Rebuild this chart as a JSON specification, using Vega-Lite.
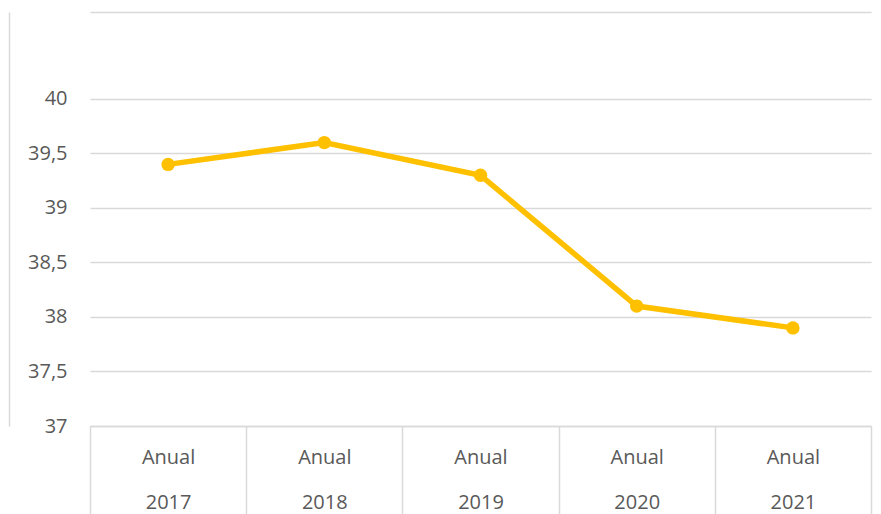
{
  "$schema": "https://vega.github.io/schema/vega-lite/v6.json",
  "width": 781,
  "height": 414,
  "autosize": {"type": "none"},
  "padding": {"left": 90, "top": 12, "right": 10, "bottom": 88},
  "background": "white",
  "config": {
    "view": {"stroke": null},
    "font": "Open Sans"
  },
  "data": {
    "values": [
      {"year": "2017", "value": 39.4},
      {"year": "2018", "value": 39.6},
      {"year": "2019", "value": 39.3},
      {"year": "2020", "value": 38.1},
      {"year": "2021", "value": 37.9}
    ]
  },
  "resolve": {"axis": {"x": "independent", "y": "independent"}},
  "layer": [
    {
      "mark": {"type": "line", "color": "#FFC000", "strokeWidth": 5.5},
      "encoding": {
        "x": {
          "field": "year", "type": "ordinal", "bandPosition": 0.5,
          "scale": {"type": "band", "paddingInner": 0, "paddingOuter": 0},
          "axis": {
            "title": null, "labelAngle": 0,
            "labelExpr": "datum.label ? ['Anual', datum.label] : ''",
            "labelLineHeight": 45, "labelFontSize": 20, "labelColor": "#595959",
            "labelFont": "Open Sans",
            "tickBand": "extent", "tickSize": 88, "tickColor": "#d9d9d9", "tickWidth": 1.5,
            "labelPadding": -67, "domainColor": "#d9d9d9", "domainWidth": 1.5, "grid": false
          }
        },
        "y": {
          "field": "value", "type": "quantitative",
          "scale": {"domain": [37, 40.798], "nice": false, "zero": false},
          "axis": {
            "title": null, "values": [37, 37.5, 38, 38.5, 39, 39.5, 40],
            "labelExpr": "replace(format(datum.value, '~g'), '.', ',')",
            "labelFontSize": 20, "labelColor": "#595959", "labelFont": "Open Sans",
            "labelPadding": 23, "ticks": false, "domain": false,
            "grid": true, "gridColor": "#d9d9d9", "gridWidth": 1.3
          }
        }
      }
    },
    {
      "mark": {"type": "circle", "color": "#FFC000", "opacity": 1, "size": 180},
      "encoding": {
        "x": {
          "field": "year", "type": "ordinal", "bandPosition": 0.5,
          "scale": {"type": "band", "paddingInner": 0, "paddingOuter": 0},
          "axis": {"orient": "top", "title": null, "labels": false, "ticks": false, "grid": false, "domainColor": "#d9d9d9", "domainWidth": 1.5}
        },
        "y": {
          "field": "value", "type": "quantitative",
          "scale": {"domain": [37, 40.798], "nice": false, "zero": false},
          "axis": {"orient": "left", "offset": 81, "title": null, "labels": false, "ticks": false, "grid": false, "domainColor": "#d9d9d9", "domainWidth": 1.5}
        }
      }
    }
  ]
}
